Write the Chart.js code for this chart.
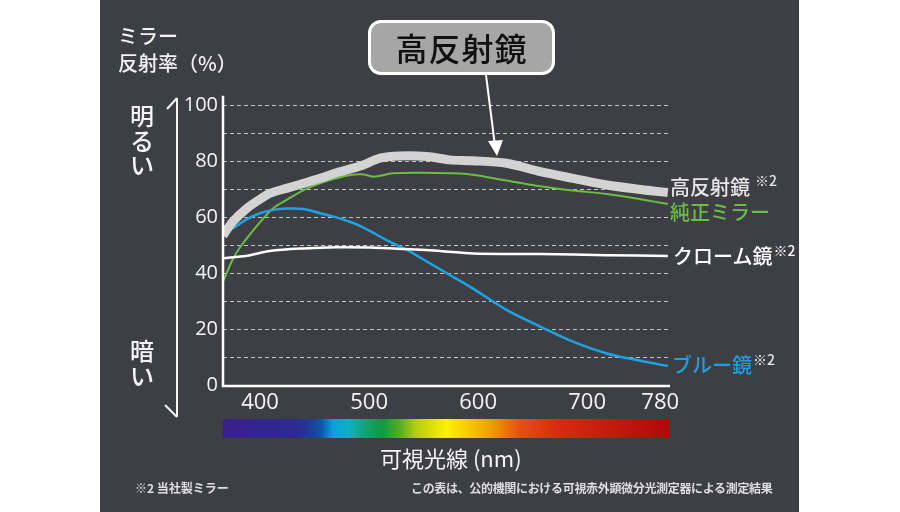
<!DOCTYPE html>
<html>
<head>
<meta charset="utf-8">
<script src="https://cdn.jsdelivr.net/npm/chart.js@4.4.1/dist/chart.umd.min.js"></script>
<style>
  html, body { margin: 0; padding: 0; background: #ffffff; }
  #wrap { position: relative; width: 900px; height: 512px; overflow: hidden; background: #ffffff;
          font-family: "Noto Sans CJK JP", "Noto Sans", sans-serif; }
  #panel { position: absolute; left: 100px; top: 0; width: 699px; height: 512px; background: #3e3f44; }
  #c { position: absolute; left: 0; top: 0; }
  .t { position: absolute; white-space: nowrap; line-height: 1; }
  #ytitle { left: 118px; top: 22px; color: #f2f2f2; font-size: 20px; line-height: 27px; font-weight: 500; }
  #callout { position: absolute; left: 368px; top: 20px; width: 187px; height: 55px; box-sizing: border-box;
             border: 3px solid #ffffff; border-radius: 13px; background: #a6a6a6; color: #111;
             font-size: 32px; font-weight: 500; letter-spacing: 1px; text-align: center; line-height: 49px; }
  .lab { font-size: 20px; font-weight: 500; }
  .sup { font-size: 14px; font-weight: 500; position: relative; }
  #bright, #dark { position: absolute; left: 129px; width: 26px; color: #f4f4f4; font-size: 24px; font-weight: 500;
                   line-height: 24.5px; text-align: center; }
  #bright { top: 103px; }
  #dark { top: 338px; }
  #spectrum { position: absolute; left: 223px; top: 419px; width: 447px; height: 19px;
    background: linear-gradient(to right, #3b1e8e 0%, #2c2a93 17%, #1e3c98 19.4%, #0f55a8 22%, #0aa0e0 24.6%,
      #0eb0c0 28%, #13a060 33%, #0f9a40 35.8%, #60b020 40%, #b4cc12 43%, #fff000 50%, #f8c800 55%,
      #f0a000 59.7%, #e55010 66.4%, #d82a10 75%, #c01a0c 88%, #b00808 100%); }
  #xtitle { left: 380px; top: 446px; color: #f4f4f4; font-size: 22px; font-weight: 400; }
  .foot { top: 482px; color: #dedede; font-size: 12px; font-weight: 700; }
  svg { position: absolute; left: 0; top: 0; }
</style>
</head>
<body>
<div id="wrap">
  <div id="panel"></div>
  <canvas id="c" width="900" height="512"></canvas>
  <svg width="900" height="512">
    <line x1="177" y1="98" x2="177" y2="417" stroke="#f4f4f4" stroke-width="2"/>
    <line x1="177" y1="98" x2="167" y2="109" stroke="#f4f4f4" stroke-width="2"/>
    <line x1="177" y1="417" x2="165" y2="405" stroke="#f4f4f4" stroke-width="2"/>
    <line x1="486" y1="75" x2="495" y2="146" stroke="#ffffff" stroke-width="2"/>
    <polygon points="488,141 503,140 497,156" fill="#ffffff"/>
  </svg>
  <div id="ytitle" class="t">ミラー<br>反射率（%）</div>
  <div id="callout">高反射鏡</div>
  <div id="bright">明<br>る<br>い</div>
  <div id="dark">暗<br>い</div>
  <div class="t lab" style="left:670px; top:177px; color:#e6e6e6;">高反射鏡<span class="sup" style="left:5px; top:-9px;">※2</span></div>
  <div class="t lab" style="left:670px; top:202px; color:#6cbd45;">純正ミラー</div>
  <div class="t lab" style="left:673px; top:246px; color:#ffffff;">クローム鏡<span class="sup" style="left:1px; top:-8px;">※2</span></div>
  <div class="t lab" style="left:672px; top:355px; color:#1ea0e0;">ブルー鏡<span class="sup" style="left:1px; top:-8px; color:#e6e6e6;">※2</span></div>
  <div id="spectrum"></div>
  <div id="xtitle" class="t">可視光線 (nm)</div>
  <div class="t foot" style="left:135px;">※2 当社製ミラー</div>
  <div class="t foot" style="left:411px; letter-spacing:-0.33px;">この表は、公的機関における可視赤外顕微分光測定器による測定結果</div>
</div>
<script>
// ---- data (wavelength nm / reflectance %) ----
const highWl   = [366, 375, 388, 400, 409, 425, 440, 455, 470, 492, 510, 528, 553, 574, 595, 626, 657, 687, 718, 749, 774];
const highVal  = [53.5, 58.5, 63.3, 66.5, 68.6, 70.5, 72.2, 74, 76, 78.4, 81.2, 82, 81.8, 80.6, 80.3, 79.4, 76.4, 74, 71.6, 70, 68.9];

const pureWl   = [366, 375, 382, 400, 412, 424, 440, 455, 470, 483, 495, 504, 522, 547, 574, 595, 626, 657, 687, 718, 749, 774];
const pureVal  = [37, 45, 49.5, 58.3, 63.3, 66.2, 69.8, 72.2, 74, 75.2, 75.4, 74.6, 75.8, 76, 75.8, 75.3, 73.2, 71.2, 69.6, 68.4, 66.5, 64.8];

const chromeWl = [366, 388, 409, 440, 470, 501, 531, 565, 595, 657, 718, 774];
const chromeVal= [45.4, 46.3, 48, 48.9, 49.3, 49.2, 48.7, 48, 47.1, 46.9, 46.5, 46.2];

const blueWl   = [375, 388, 400, 412, 424, 440, 455, 470, 486, 498, 516, 535, 553, 574, 595, 626, 657, 687, 718, 749, 774];
const blueVal  = [56, 59.4, 61.5, 62.7, 63.2, 63, 61.5, 60, 57.9, 55.7, 51.9, 48.3, 44.2, 39.4, 34.6, 26.9, 20.9, 15.5, 11.3, 8.7, 6.8];

const xTickValues = [400, 500, 600, 700, 767];
const xTickLabels = ['400', '500', '600', '700', '780'];
const yTickLabels = ['0', '20', '40', '60', '80', '100'];

const toPts = (xs, ys) => xs.map((x, i) => ({ x: x, y: ys[i] }));

const axisLines = {
  id: 'axisLines',
  afterDatasetsDraw(chart) {
    const { ctx, chartArea: a } = chart;
    ctx.save();
    ctx.strokeStyle = '#ffffff';
    ctx.lineWidth = 2.5;
    ctx.beginPath();
    ctx.moveTo(a.left, a.top - 10);
    ctx.lineTo(a.left, a.bottom + 1);
    ctx.lineTo(a.right, a.bottom + 1);
    ctx.stroke();
    ctx.restore();
  }
};

new Chart(document.getElementById('c'), {
  type: 'line',
  data: {
    datasets: [
      { label: '高反射鏡', data: toPts(highWl, highVal), borderColor: '#d3d3d3', borderWidth: 9, tension: 0.3, pointRadius: 0 },
      { label: 'クローム鏡', data: toPts(chromeWl, chromeVal), borderColor: '#ffffff', borderWidth: 2.5, tension: 0.3, pointRadius: 0 },
      { label: 'ブルー鏡', data: toPts(blueWl, blueVal), borderColor: '#1ea3e2', borderWidth: 2.5, tension: 0.3, pointRadius: 0 },
      { label: '純正ミラー', data: toPts(pureWl, pureVal), borderColor: '#6cbd45', borderWidth: 2, tension: 0.3, pointRadius: 0 }
    ]
  },
  options: {
    responsive: false,
    animation: false,
    layout: { padding: { left: 0, top: 105.7, right: 230, bottom: 87 } },
    plugins: { legend: { display: false }, tooltip: { enabled: false } },
    scales: {
      x: {
        type: 'linear', min: 366, max: 776,
        afterBuildTicks: s => { s.ticks = xTickValues.map(v => ({ value: v })); },
        afterFit: s => { s.height = 40; },
        ticks: {
          autoSkip: false, maxRotation: 0, padding: 5, color: '#f4f4f4',
          font: { family: '"Open Sans", "Noto Sans", sans-serif', size: 22 },
          callback: (v, i) => xTickLabels[i]
        },
        grid: { display: false, drawTicks: false },
        border: { display: false }
      },
      y: {
        min: 0, max: 100,
        afterBuildTicks: s => { s.ticks = [0,10,20,30,40,50,60,70,80,90,100].map(v => ({ value: v })); },
        afterFit: s => { s.width = 223; },
        ticks: {
          padding: 5, color: '#f4f4f4',
          font: { family: '"Open Sans", "Noto Sans", sans-serif', size: 20 },
          callback: v => (v % 20 === 0 ? yTickLabels[v / 20] : '')
        },
        grid: {
          drawTicks: false, lineWidth: 1,
          color: c => (c.tick && c.tick.value === 0 ? 'rgba(0,0,0,0)' : '#c4c4c4')
        },
        border: { display: false, dash: [4, 3] }
      }
    }
  },
  plugins: [axisLines]
});
</script>
</body>
</html>
